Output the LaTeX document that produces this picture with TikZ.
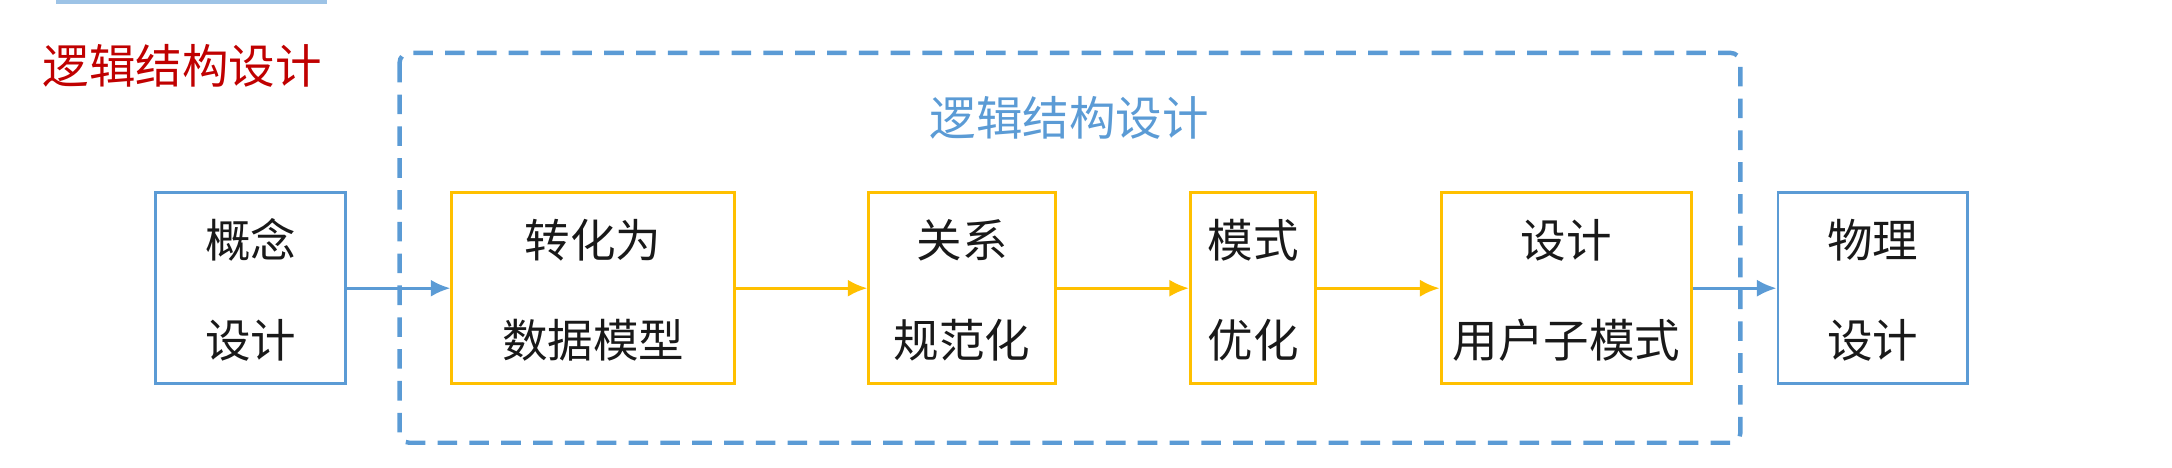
\documentclass[tikz,border=0pt]{standalone}
\usepackage{fontspec}
\setmainfont{Noto Sans CJK SC}
\usetikzlibrary{arrows.meta}
\definecolor{bl}{HTML}{5B9BD5}
\definecolor{yl}{HTML}{FFC000}
\definecolor{rd}{HTML}{C00000}
\begin{document}
\begin{tikzpicture}[x=0.01cm,y=-0.01cm,
  box/.style={draw,line width=0.6pt,align=center,inner sep=0pt,font=\fontsize{9.3}{20.5}\selectfont,text=black!90},
  bbox/.style={box,draw=bl},
  ybox/.style={box,draw=yl},
  arr/.style={-{Latex[length=4pt,width=3.5pt]},line width=0.6pt}]
\useasboundingbox (0,0) rectangle (1560,336);
\draw[bl!60,line width=1pt] (40,1) -- (235,1);
\node[text=rd,font=\fontsize{9.5}{10}\selectfont,anchor=west,inner sep=0pt] (t1) at (30,47) {逻辑结构设计};
\draw[bl,dashed,line width=0.9pt,dash pattern=on 4pt off 2.5pt,rounded corners=2pt] (287,38) rectangle (1250,318);
\node[text=bl,font=\fontsize{9.5}{10}\selectfont] (t2) at (768,85) {逻辑结构设计};
\begin{scope}[every node/.append style={text depth=0pt}]
\node[bbox,minimum width=136*0.01cm,minimum height=137*0.01cm] (a) at (180,207) {概念\\设计};
\node[ybox,minimum width=203*0.01cm,minimum height=137*0.01cm] (b) at (426,207) {转化为\\数据模型};
\node[ybox,minimum width=134*0.01cm,minimum height=137*0.01cm] (c) at (691,207) {关系\\规范化};
\node[ybox,minimum width=90*0.01cm,minimum height=137*0.01cm] (d) at (900,207) {模式\\优化};
\node[ybox,minimum width=180*0.01cm,minimum height=137*0.01cm] (e) at (1125,207) {设计\\用户子模式};
\node[bbox,minimum width=136*0.01cm,minimum height=137*0.01cm] (f) at (1345,207) {物理\\设计};
\end{scope}
\draw[arr,bl] (a) -- (b);
\draw[arr,yl] (b) -- (c);
\draw[arr,yl] (c) -- (d);
\draw[arr,yl] (d) -- (e);
\draw[arr,bl] (e) -- (f);
\end{tikzpicture}
\end{document}
